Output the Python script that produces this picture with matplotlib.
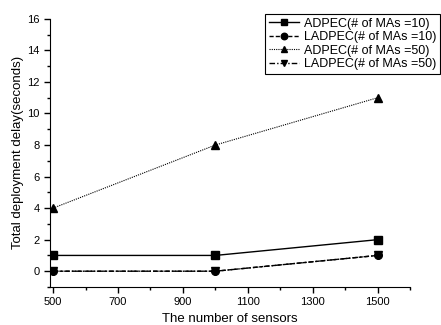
import numpy as np
import matplotlib
matplotlib.use('Agg')
from matplotlib import pyplot as plt
from matplotlib.ticker import MultipleLocator

plt.rcParams['font.family'] = ['Liberation Sans', 'DejaVu Sans']

sensors = [500, 1000, 1500]
adpec_10 = [1, 1, 2]
ladpec_10 = [0, 0, 1]
adpec_50 = [4, 8, 11]
ladpec_50 = [0, 0, 1]

labels = ['ADPEC(# of MAs =10)', 'LADPEC(# of MAs =10)',
          'ADPEC(# of MAs =50)', 'LADPEC(# of MAs =50)']

fig = plt.figure(figsize=(4.41, 3.25), dpi=100)
ax = fig.add_axes([0.113, 0.117, 0.817, 0.825])

ax.plot(sensors, adpec_10, '-', marker='s', color='black', lw=1, markersize=5.5, label=labels[0])
ax.plot(sensors, ladpec_10, linestyle=(0, (3, 1.5)), marker='o', color='black', lw=1, markersize=5.5, label=labels[1])
ax.plot(sensors, adpec_50, linestyle=(0, (1, 1)), marker='^', color='black', lw=0.8, markersize=5.5, label=labels[2])
ax.plot(sensors, ladpec_50, linestyle=(0, (4, 1.5, 1, 1.5)), marker='v', color='black', lw=1, markersize=5.5, label=labels[3])

ax.set_xlim(490, 1600)
ax.set_ylim(-1, 16)
ax.set_xticks([500, 700, 900, 1100, 1300, 1500])
ax.set_yticks([0, 2, 4, 6, 8, 10, 12, 14, 16])
ax.xaxis.set_minor_locator(MultipleLocator(100))
ax.yaxis.set_minor_locator(MultipleLocator(1))
ax.tick_params(which='major', direction='out', length=4, width=1, labelsize=8)
ax.tick_params(which='minor', direction='out', length=2.5, width=1)

ax.spines['top'].set_visible(False)
ax.spines['right'].set_visible(False)

ax.set_xlabel('The number of sensors', fontsize=9.5)
ax.set_ylabel('Total deployment delay(seconds)', fontsize=9.5, labelpad=2)

leg = ax.legend(loc='upper right', bbox_to_anchor=(1.083, 1.019), fontsize=9,
                frameon=True, fancybox=False, edgecolor='black', framealpha=1,
                handlelength=2.4, handletextpad=0.4, borderpad=0.3,
                labelspacing=0.13, borderaxespad=0, markerscale=0.85)
leg.get_frame().set_linewidth(0.8)

plt.savefig('out.png', dpi=100)
